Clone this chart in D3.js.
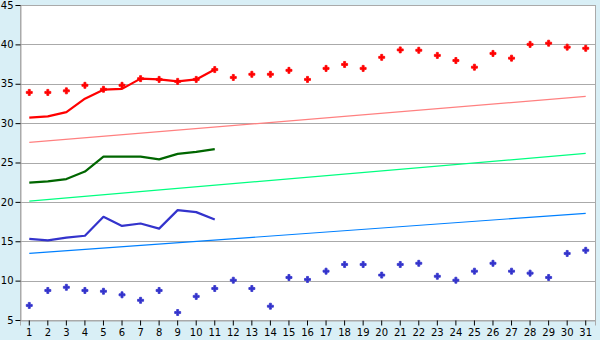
<!DOCTYPE html>
<html>
<head>
<meta charset="utf-8">
<script src="https://cdn.jsdelivr.net/npm/d3@7"></script>
<style>
  body { margin: 0; background: #d9eff6; }
  svg { display: block; }
</style>
</head>
<body>
<div id="chart"></div>
<script>
// Days of the month
const days = d3.range(1, 32);

// Red series: daily points and 11-day line
const redPoints = [33.9, 33.9, 34.1, 34.8, 34.3, 34.8, 35.65, 35.55, 35.3, 35.55, 36.8,
  35.8, 36.2, 36.2, 36.7, 35.55, 36.95, 37.45, 36.95, 38.35, 39.3, 39.25, 38.6, 37.95,
  37.1, 38.85, 38.25, 40.0, 40.15, 39.65, 39.5];
const redLine = [30.7, 30.85, 31.4, 33.1, 34.25, 34.35, 35.65, 35.55, 35.3, 35.55, 36.8];

// Green and blue lines for days 1 to 11
const greenLine = [22.45, 22.6, 22.9, 23.85, 25.75, 25.75, 25.75, 25.4, 26.1, 26.35, 26.7];
const blueLine = [15.3, 15.1, 15.45, 15.7, 18.1, 16.95, 17.25, 16.6, 18.95, 18.7, 17.75];

// Blue daily points
const bluePoints = [6.85, 8.75, 9.15, 8.75, 8.65, 8.2, 7.5, 8.75, 5.95, 8.0, 9.0,
  10.05, 9.0, 6.75, 10.4, 10.15, 11.2, 12.05, 12.05, 10.7, 12.05, 12.2, 10.55, 10.05,
  11.2, 12.2, 11.2, 10.95, 10.4, 13.45, 13.85];

// Trend lines: value at day 1 and day 31
const pinkTrend = [27.55, 33.4];
const springTrend = [20.1, 26.15];
const skyTrend = [13.45, 18.55];

const yTicks = [5, 10, 15, 20, 25, 30, 35, 40, 45];

const width = 600, height = 340;
const margin = {top: 5, right: 5, bottom: 20, left: 20};

const svg = d3.select("#chart").append("svg")
  .attr("width", width)
  .attr("height", height);

// Scales
const x = d3.scaleBand()
  .domain(days)
  .range([margin.left, width - margin.right]);
const cx = d => x(d) + x.bandwidth() / 2;

const y = d3.scaleLinear()
  .domain([5, 45])
  .range([height - margin.bottom, margin.top]);

// Plot background
svg.append("rect")
  .attr("x", margin.left)
  .attr("y", margin.top)
  .attr("width", width - margin.left - margin.right)
  .attr("height", height - margin.top - margin.bottom)
  .attr("fill", "#fff")
  .attr("stroke", "#aaa")
  .attr("shape-rendering", "crispEdges");

// Gridlines
svg.append("g")
  .selectAll("line")
  .data(yTicks)
  .join("line")
  .attr("x1", margin.left)
  .attr("x2", width - margin.right)
  .attr("y1", d => Math.round(y(d)) + 0.5)
  .attr("y2", d => Math.round(y(d)) + 0.5)
  .attr("stroke", "#aaa");

// Axes
const yAxis = svg.append("g")
  .attr("transform", `translate(${margin.left + 0.5},0)`)
  .call(d3.axisLeft(y).tickValues(yTicks).tickSize(5).tickPadding(2));

const xAxis = svg.append("g")
  .attr("transform", `translate(0,${height - margin.bottom + 0.5})`)
  .call(d3.axisBottom(x).tickSize(5).tickPadding(3));

[xAxis, yAxis].forEach(g => {
  g.select(".domain").attr("stroke", "#aaa");
  g.selectAll(".tick line").attr("stroke", "#000");
  g.selectAll("text")
    .attr("font-family", "DejaVu Sans, Verdana, sans-serif")
    .attr("font-size", 10)
    .attr("fill", "#000");
});

// Trend lines
const trendLine = d3.line()
  .x((d, i) => cx(i === 0 ? 1 : 31))
  .y(d => y(d));

[[pinkTrend, "#ff8080"], [springTrend, "#00ff80"], [skyTrend, "#0080ff"]].forEach(([vals, color]) => {
  svg.append("path")
    .datum(vals)
    .attr("d", trendLine)
    .attr("fill", "none")
    .attr("stroke", color)
    .attr("stroke-width", 1.2);
});

// Series lines
const line = d3.line()
  .x((d, i) => cx(days[i]))
  .y(d => y(d));

[[redLine, "#ff0000"], [greenLine, "#006600"], [blueLine, "#3333cc"]].forEach(([vals, color]) => {
  svg.append("path")
    .datum(vals)
    .attr("d", line)
    .attr("fill", "none")
    .attr("stroke", color)
    .attr("stroke-width", 2.2)
    .attr("stroke-linejoin", "round");
});

// Point markers
const marker = d3.symbol().type(d3.symbolCross).size(20);

[[redPoints, "#ff0000"], [bluePoints, "#3333cc"]].forEach(([vals, color]) => {
  svg.append("g")
    .selectAll("path")
    .data(vals)
    .join("path")
    .attr("d", marker)
    .attr("transform", (d, i) => `translate(${cx(days[i])},${y(d)})`)
    .attr("fill", color)
    .attr("stroke", color)
    .attr("stroke-width", 0.8)
    .attr("stroke-linejoin", "round");
});
</script>
</body>
</html>
